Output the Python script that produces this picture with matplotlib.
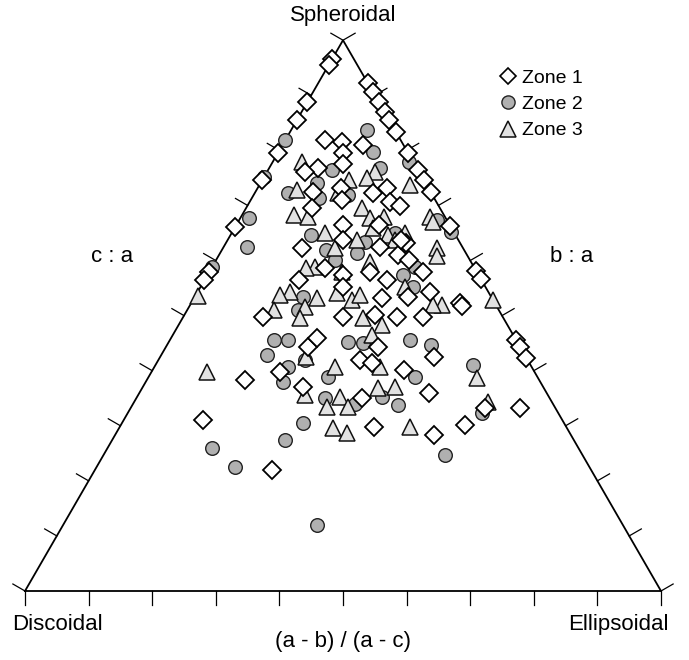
import numpy as np
import matplotlib
matplotlib.use("Agg")
import matplotlib.pyplot as plt
from matplotlib.lines import Line2D

# -------------------------------------------------------------------
# data: c/a (vertical) and (a-b)/(a-c) (horizontal position) per zone

zone1_ca = [0.965, 0.955, 0.887, 0.855, 0.795, 0.746, 0.661, 0.579, 0.564,
            0.922, 0.906, 0.887, 0.869, 0.855, 0.833, 0.795, 0.764, 0.746,
            0.724, 0.662, 0.581, 0.566, 0.456, 0.443, 0.423,
            0.819, 0.815, 0.809, 0.795, 0.775, 0.768, 0.760, 0.724, 0.731,
            0.710, 0.695, 0.722, 0.731, 0.706, 0.699, 0.664, 0.637, 0.622,
            0.586, 0.564, 0.573, 0.552, 0.579, 0.564, 0.610, 0.632, 0.637,
            0.624, 0.532, 0.534, 0.664, 0.601, 0.579, 0.543, 0.497, 0.443,
            0.459, 0.397, 0.370, 0.497, 0.419, 0.350, 0.383, 0.310, 0.220,
            0.523, 0.517, 0.501, 0.497, 0.497, 0.443, 0.414, 0.401, 0.425,
            0.359, 0.298, 0.283, 0.301, 0.332, 0.332]
zone1_ab = [0.0, 0.0, 0.0, 0.0, 0.0, 0.0, 0.0, 0.0, 0.0,
            1.0, 1.0, 1.0, 1.0, 1.0, 1.0, 1.0, 1.0, 1.0,
            1.0, 1.0, 1.0, 1.0, 1.0, 1.0, 1.0,
            0.34, 0.49, 0.665, 0.50, 0.50, 0.33, 0.25, 0.33, 0.49,
            0.495, 0.34, 0.67, 0.76, 0.75, 0.80, 0.50, 0.50, 0.33,
            0.43, 0.34, 0.50, 0.50, 0.60, 0.66, 0.72, 0.77, 0.75,
            0.655, 0.63, 0.72, 0.67, 0.76, 0.80, 0.80, 0.25, 0.40,
            0.425, 0.335, 0.40, 0.50, 0.546, 0.546, 0.25, 0.18, 0.357,
            0.885, 0.888, 0.60, 0.67, 0.75, 0.60, 0.578, 0.66, 0.75,
            0.71, 0.57, 0.70, 0.775, 0.834, 0.917]

zone2_ca = [0.819, 0.751, 0.588, 0.677, 0.624, 0.779, 0.652, 0.837, 0.797,
            0.764, 0.768, 0.740, 0.722, 0.713, 0.719, 0.646, 0.619, 0.601,
            0.613, 0.633, 0.650, 0.588, 0.573, 0.552, 0.534, 0.510, 0.673,
            0.446, 0.410, 0.456, 0.456, 0.428, 0.407, 0.379, 0.419, 0.388,
            0.452, 0.450, 0.350, 0.339, 0.305, 0.274, 0.260, 0.225, 0.456,
            0.388, 0.352, 0.338, 0.323, 0.247, 0.120]
zone2_ab = [0.0, 0.0, 0.0, 0.04, 0.10, 0.97, 0.99, 0.73, 0.73,
            0.43, 0.75, 0.34, 0.19, 0.37, 0.53, 0.36, 0.43, 0.47,
            0.557, 0.595, 0.733, 0.775, 0.72, 0.746, 0.365, 0.356, 0.95,
            0.75, 0.847, 0.30, 0.34, 0.29, 0.354, 0.348, 0.397, 0.461,
            0.514, 0.557, 0.456, 0.529, 0.41, 0.374, 0.222, 0.281, 0.693,
            0.685, 0.595, 0.63, 0.823, 0.713, 0.454]

zone3_ca = [0.535, 0.528, 0.779, 0.728, 0.682, 0.679, 0.722, 0.746, 0.760,
            0.750, 0.695, 0.677, 0.679, 0.659, 0.646, 0.650, 0.737, 0.650,
            0.622, 0.637, 0.597, 0.579, 0.637, 0.543, 0.532, 0.528, 0.537,
            0.552, 0.679, 0.670, 0.622, 0.608, 0.519, 0.519, 0.537, 0.510,
            0.515, 0.495, 0.541, 0.495, 0.483, 0.465, 0.425, 0.407, 0.407,
            0.352, 0.334, 0.334, 0.356, 0.368, 0.370, 0.296, 0.287, 0.298,
            0.397, 0.387, 0.343, 0.588, 0.586]
zone3_ab = [0.01, 1.0, 0.21, 0.235, 0.26, 0.33, 0.47, 0.54, 0.71,
            0.65, 0.60, 0.63, 0.70, 0.64, 0.70, 0.78, 0.90, 0.42,
            0.467, 0.56, 0.605, 0.496, 0.725, 0.318, 0.413, 0.53, 0.558,
            0.718, 0.926, 0.928, 0.89, 0.877, 0.823, 0.794, 0.286, 0.28,
            0.377, 0.366, 0.48, 0.5625, 0.62, 0.585, 0.40, 0.479, 0.598,
            0.493, 0.512, 0.462, 0.407, 0.587, 0.63, 0.478, 0.509, 0.65,
            0.145, 0.844, 0.847, 0.393, 0.36]

zone_labels = ["Zone 1", "Zone 2", "Zone 3"]

# ===================================================================

H = np.sqrt(3) / 2


# -------------------------------------------------------------------
def to_xy(ca, ab):
    # c/a sets the height, (a-b)/(a-c) the position across that row
    ca = np.asarray(ca, dtype=float)
    ab = np.asarray(ab, dtype=float)
    x = 0.5 * ca + (1 - ca) * ab
    y = ca * H
    return x, y

# ===================================================================

plt.rcParams["font.family"] = ["Liberation Sans", "DejaVu Sans"]

fig = plt.figure(figsize=(6.89, 6.60), dpi=100)
ax = fig.add_axes([0, 0, 1, 1])
ax.set_xlim(-25 / 636, 664 / 636)
ax.set_ylim(-69 / 636, 591 / 636)
ax.axis("off")

# triangle outline
ax.plot([0, 1, 0.5, 0], [0, 0, H, 0], color="black", lw=1.3, zorder=1,
        solid_joinstyle="miter")

# ticks, ten divisions per side, pointing outwards
tl = 0.022
for t in np.linspace(0, 1, 11):
    ax.plot([t, t], [0, -tl], color="black", lw=0.9, zorder=1)
    lx, ly = 0.5 * t, H * t
    ax.plot([lx, lx - tl * H], [ly, ly + tl * 0.5], color="black", lw=0.9, zorder=1)
    rx, ry = 1 - 0.5 * t, H * t
    ax.plot([rx, rx + tl * H], [ry, ry + tl * 0.5], color="black", lw=0.9, zorder=1)

x2, y2 = to_xy(zone2_ca, zone2_ab)
x3, y3 = to_xy(zone3_ca, zone3_ab)
x1, y1 = to_xy(zone1_ca, zone1_ab)

ax.plot(x2, y2, "o", ms=9.8, mfc="#b0b0b0", mec="#222222", mew=1.0, ls="none", zorder=3)
ax.plot(x3, y3, "^", ms=12, mfc="#e2e2e2", mec="#111111", mew=1.1, ls="none", zorder=4)
ax.plot(x1, y1, "D", ms=9.2, mfc="white", mec="black", mew=1.3, ls="none", zorder=5)

# labels
fs = 16
ax.text(0.5, (591 - 16) / 636, "Spheroidal", ha="center", va="center", fontsize=fs)
ax.text(0.137, 0.526, "c : a", ha="center", va="center", fontsize=fs)
ax.text(0.860, 0.526, "b : a", ha="center", va="center", fontsize=fs)
ax.text(-0.020, -0.053, "Discoidal", ha="left", va="center", fontsize=fs)
ax.text(1.012, -0.053, "Ellipsoidal", ha="right", va="center", fontsize=fs)
ax.text(0.5, -0.080, "(a - b) / (a - c)", ha="center", va="center", fontsize=fs)

handles = [
    Line2D([], [], marker="D", ms=8.5, mfc="white", mec="black", mew=1.2, ls="none"),
    Line2D([], [], marker="o", ms=9.5, mfc="#b0b0b0", mec="#222222", mew=1.0, ls="none"),
    Line2D([], [], marker="^", ms=11.5, mfc="#e2e2e2", mec="#111111", mew=1.1, ls="none"),
]
ax.legend(handles, zone_labels, loc="upper left", bbox_to_anchor=(499 / 689, 1 - 69 / 660),
          frameon=False, fontsize=14, handlelength=0.9, handletextpad=0.3,
          labelspacing=0.45, borderpad=0, borderaxespad=0)

fig.savefig("out.png", dpi=100)
